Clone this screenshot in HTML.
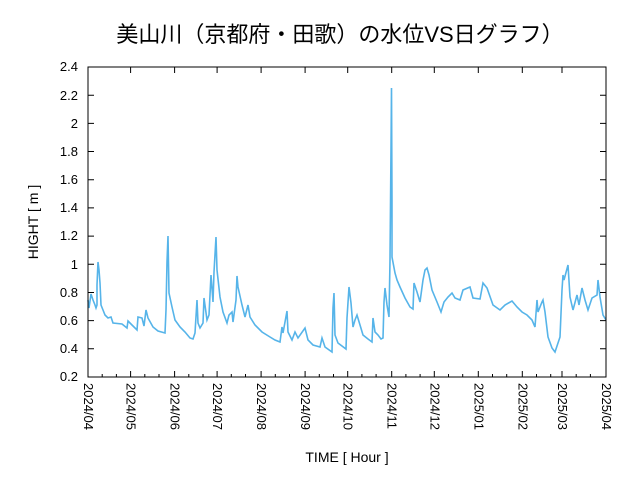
<!DOCTYPE html><html><head><meta charset="utf-8"><style>body{margin:0;background:#fff}svg{display:block}text{font-family:"Liberation Sans","Noto Sans CJK JP",sans-serif}</style></head><body>
<svg width="640" height="480" viewBox="0 0 640 480" xmlns="http://www.w3.org/2000/svg">
<rect width="640" height="480" fill="#fff"/>
<text x="340" y="42" font-size="22" text-anchor="middle">美山川（京都府・田歌）の水位VS日グラフ）</text>
<g id="g"></g>
<polyline fill="none" stroke="#56b4e9" stroke-width="1.6" stroke-linejoin="miter" points="88,300 89,308 91,294 93,300 95,305 96,308 97,305 97,285 98,262 99,270 100,283 101,305 103,310 105,315 108,318 111,317 113,323 122,324 127,328 128,321 133,326 137,330 138,317 142,318 144,326 146,310 148,318 153,327 158,331 165,333 166,310 167,262 168,236 169,293 172,307 175,320 180,327 185,332 190,338 193,339 195,333 197,300 198,323 200,328 203,323 204,298 207,320 209,315 211,275 213,302 214,272 216,237 217,270 220,297 223,312 227,323 229,315 232,312 233,322 236,300 237,276 238,287 242,305 245,317 248,305 250,317 255,325 262,332 270,337 275,340 280,342 282,327 283,333 287,311 288,332 292,340 295,332 298,338 305,328 308,340 313,345 320,347 322,338 325,347 332,352 333,308 334,293 335,335 338,343 346,349 347,318 349,287 351,303 353,327 355,320 357,315 360,325 363,335 368,339 372,342 373,318 375,332 378,335 381,339 383,338 384,302 385,288 387,305 389,317 390,260 391,150 391.5,88 392,200 392,257 395,273 397,280 400,287 405,298 410,307 413,309 414,283 417,292 420,302 423,280 425,270 427,268 429,275 432,290 437,302 441,312 444,302 448,297 452,293 455,298 460,300 463,290 470,287 473,298 480,299 483,283 487,288 493,305 500,310 505,305 512,301 517,307 522,312 527,315 532,320 535,327 537,300 538,312 542,302 543,300 545,312 548,337 552,348 555,352 560,337 562,290 563,275 564,280 568,265 570,297 573,310 577,295 579,305 582,288 585,300 588,310 592,298 597,295 598,280 600,297 603,315 606,320"/>
<rect x="88" y="67" width="518" height="310" fill="none" stroke="#000" stroke-width="1"/>
<g stroke="#000" stroke-width="1">
<path d="M88,377h6M88,348.8h6M88,320.6h6M88,292.5h6M88,264.3h6M88,236.1h6M88,207.9h6M88,179.7h6M88,151.5h6M88,123.4h6M88,95.2h6M88,67h6M606,377h-6M606,348.8h-6M606,320.6h-6M606,292.5h-6M606,264.3h-6M606,236.1h-6M606,207.9h-6M606,179.7h-6M606,151.5h-6M606,123.4h-6M606,95.2h-6M606,67h-6"/>
<path d="M130.6,377v-6M174.6,377v-6M217.1,377v-6M261.1,377v-6M305.1,377v-6M347.7,377v-6M391.7,377v-6M434.3,377v-6M478.3,377v-6M522.3,377v-6M562,377v-6M130.6,67v6M174.6,67v6M217.1,67v6M261.1,67v6M305.1,67v6M347.7,67v6M391.7,67v6M434.3,67v6M478.3,67v6M522.3,67v6M562,67v6"/>
<path d="M102.2,377v-3M116.4,377v-3M144.8,377v-3M159,377v-3M188.8,377v-3M203,377v-3M231.3,377v-3M245.5,377v-3M275.3,377v-3M289.5,377v-3M319.3,377v-3M333.5,377v-3M361.9,377v-3M376.1,377v-3M405.9,377v-3M420.1,377v-3M448.5,377v-3M462.7,377v-3M492.5,377v-3M506.7,377v-3M536.5,377v-3M550.7,377v-3M576.2,377v-3M590.4,377v-3"/>
</g>
<g font-size="13" text-anchor="end">
<text x="78" y="381">0.2</text><text x="78" y="353">0.4</text><text x="78" y="325">0.6</text><text x="78" y="297">0.8</text><text x="78" y="269">1</text><text x="78" y="240">1.2</text><text x="78" y="212">1.4</text><text x="78" y="184">1.6</text><text x="78" y="156">1.8</text><text x="78" y="128">2</text><text x="78" y="100">2.2</text><text x="78" y="71">2.4</text>
</g>
<g font-size="13">
<text transform="translate(84,383) rotate(90)">2024/04</text>
<text transform="translate(126.6,383) rotate(90)">2024/05</text>
<text transform="translate(170.6,383) rotate(90)">2024/06</text>
<text transform="translate(213.1,383) rotate(90)">2024/07</text>
<text transform="translate(257.1,383) rotate(90)">2024/08</text>
<text transform="translate(301.1,383) rotate(90)">2024/09</text>
<text transform="translate(343.7,383) rotate(90)">2024/10</text>
<text transform="translate(387.7,383) rotate(90)">2024/11</text>
<text transform="translate(430.3,383) rotate(90)">2024/12</text>
<text transform="translate(474.3,383) rotate(90)">2025/01</text>
<text transform="translate(518.3,383) rotate(90)">2025/02</text>
<text transform="translate(558,383) rotate(90)">2025/03</text>
<text transform="translate(602,383) rotate(90)">2025/04</text>
</g>
<text x="347" y="462" font-size="14" text-anchor="middle">TIME [ Hour ]</text>
<text transform="translate(38,222) rotate(-90)" font-size="14" text-anchor="middle">HIGHT [ m ]</text>
</svg></body></html>
